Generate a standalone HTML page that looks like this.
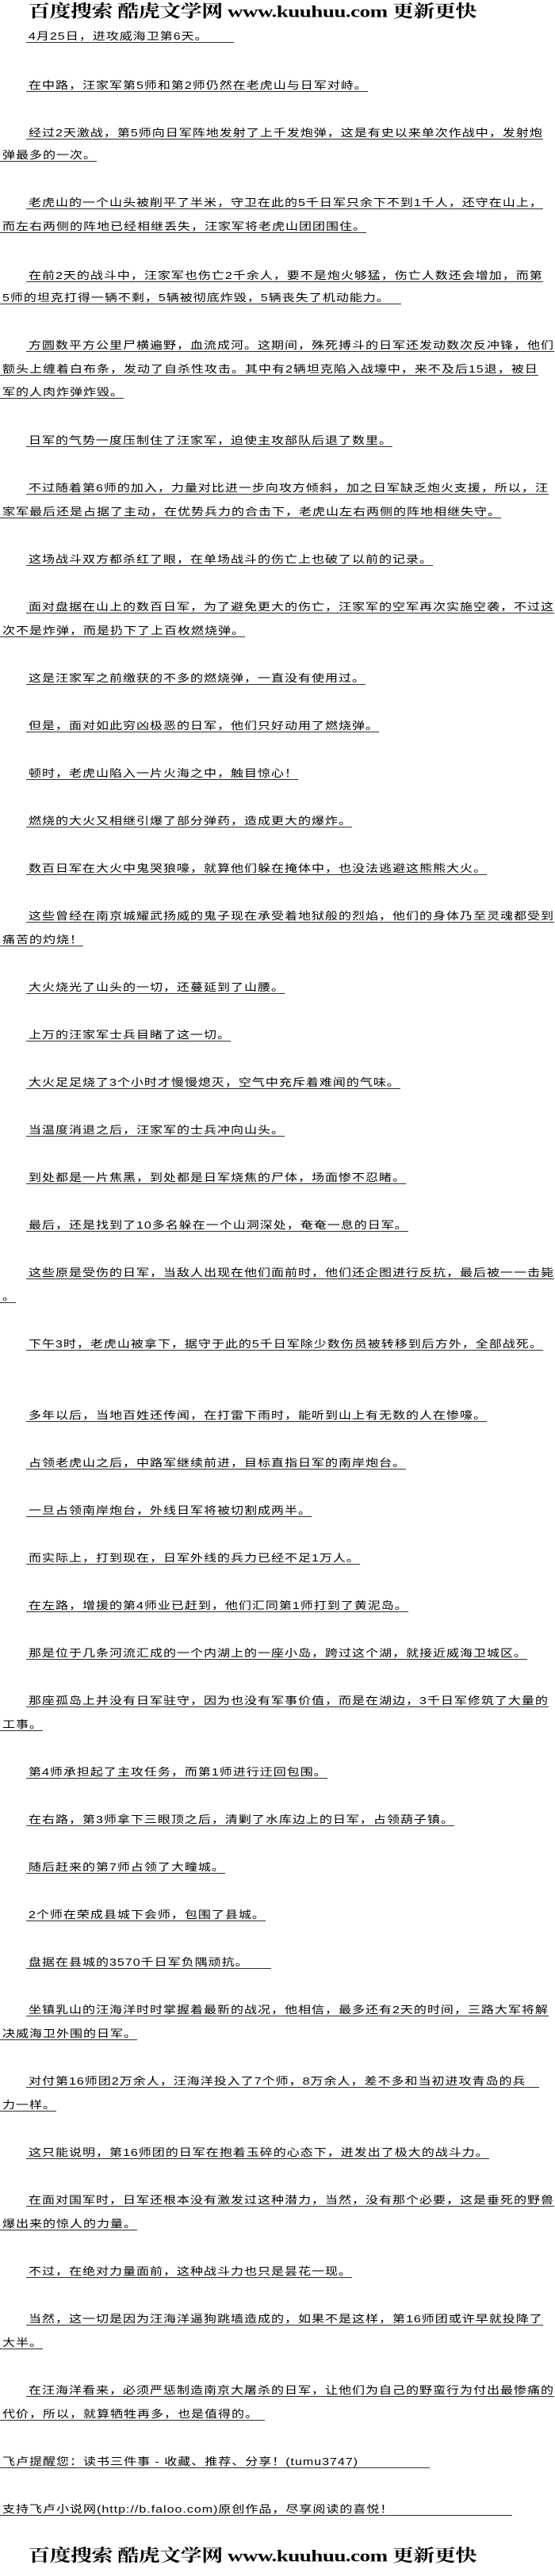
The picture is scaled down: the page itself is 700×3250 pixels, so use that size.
<!DOCTYPE html>
<html><head><meta charset="utf-8">
<style>
html,body{margin:0;padding:0;background:#fff;}
body{width:700px;height:3250px;position:relative;overflow:hidden;}
.l{position:absolute;left:33px;padding-left:3px;font-family:"Liberation Sans","Noto Sans CJK SC",sans-serif;font-size:16px;line-height:16px;letter-spacing:1px;white-space:nowrap;color:#000;border-bottom:1px solid #000;transform:scaleY(0.82);transform-origin:0 100%;}
.c{left:0;}
.hd{position:absolute;left:36px;width:600px;font-family:"Liberation Serif","Noto Serif CJK SC",serif;font-weight:bold;font-size:27px;line-height:28px;white-space:nowrap;color:#000;transform:scaleY(0.8);transform-origin:0 0;letter-spacing:-0.5px;}
</style></head><body>
<div class="hd" style="top:3px">百度搜索 酷虎文学网 www.kuuhuu.com 更新更快</div>

<div class="l" style="top:37px;padding-right:32px">4月25日，进攻威海卫第6天。</div>
<div class="l" style="top:99px">在中路，汪家军第5师和第2师仍然在老虎山与日军对峙。</div>
<div class="l" style="top:159px">经过2天激战，第5师向日军阵地发射了上千发炮弹，这是有史以来单次作战中，发射炮</div>
<div class="l c" style="top:187px">弹最多的一次。</div>
<div class="l" style="top:247px">老虎山的一个山头被削平了半米，守卫在此的5千日军只余下不到1千人，还守在山上，</div>
<div class="l c" style="top:277px">而左右两侧的阵地已经相继丢失，汪家军将老虎山团团围住。</div>
<div class="l" style="top:339px">在前2天的战斗中，汪家军也伤亡2千余人，要不是炮火够猛，伤亡人数还会增加，而第</div>
<div class="l c" style="top:367px;padding-right:14px">5师的坦克打得一辆不剩，5辆被彻底炸毁，5辆丧失了机动能力。</div>
<div class="l" style="top:427px">方圆数平方公里尸横遍野，血流成河。这期间，殊死搏斗的日军还发动数次反冲锋，他们</div>
<div class="l c" style="top:457px">额头上缠着白布条，发动了自杀性攻击。其中有2辆坦克陷入战壕中，来不及后15退，被日</div>
<div class="l c" style="top:486px">军的人肉炸弹炸毁。</div>
<div class="l" style="top:547px">日军的气势一度压制住了汪家军，迫使主攻部队后退了数里。</div>
<div class="l" style="top:607px">不过随着第6师的加入，力量对比进一步向攻方倾斜，加之日军缺乏炮火支援，所以，汪</div>
<div class="l c" style="top:637px">家军最后还是占据了主动，在优势兵力的合击下，老虎山左右两侧的阵地相继失守。</div>
<div class="l" style="top:697px">这场战斗双方都杀红了眼，在单场战斗的伤亡上也破了以前的记录。</div>
<div class="l" style="top:757px">面对盘据在山上的数百日军，为了避免更大的伤亡，汪家军的空军再次实施空袭，不过这</div>
<div class="l c" style="top:787px">次不是炸弹，而是扔下了上百枚燃烧弹。</div>
<div class="l" style="top:847px">这是汪家军之前缴获的不多的燃烧弹，一直没有使用过。</div>
<div class="l" style="top:907px">但是，面对如此穷凶极恶的日军，他们只好动用了燃烧弹。</div>
<div class="l" style="top:967px">顿时，老虎山陷入一片火海之中，触目惊心！</div>
<div class="l" style="top:1027px">燃烧的大火又相继引爆了部分弹药，造成更大的爆炸。</div>
<div class="l" style="top:1087px">数百日军在大火中鬼哭狼嚎，就算他们躲在掩体中，也没法逃避这熊熊大火。</div>
<div class="l" style="top:1147px">这些曾经在南京城耀武扬威的鬼子现在承受着地狱般的烈焰，他们的身体乃至灵魂都受到</div>
<div class="l c" style="top:1177px">痛苦的灼烧！</div>
<div class="l" style="top:1237px">大火烧光了山头的一切，还蔓延到了山腰。</div>
<div class="l" style="top:1297px">上万的汪家军士兵目睹了这一切。</div>
<div class="l" style="top:1357px">大火足足烧了3个小时才慢慢熄灭，空气中充斥着难闻的气味。</div>
<div class="l" style="top:1417px">当温度消退之后，汪家军的士兵冲向山头。</div>
<div class="l" style="top:1477px">到处都是一片焦黑，到处都是日军烧焦的尸体，场面惨不忍睹。</div>
<div class="l" style="top:1537px">最后，还是找到了10多名躲在一个山洞深处，奄奄一息的日军。</div>
<div class="l" style="top:1597px">这些原是受伤的日军，当敌人出现在他们面前时，他们还企图进行反抗，最后被一一击毙</div>
<div class="l c" style="top:1627px">。</div>
<div class="l" style="top:1687px">下午3时，老虎山被拿下，据守于此的5千日军除少数伤员被转移到后方外，全部战死。</div>
<div class="l" style="top:1777px">多年以后，当地百姓还传闻，在打雷下雨时，能听到山上有无数的人在惨嚎。</div>
<div class="l" style="top:1837px">占领老虎山之后，中路军继续前进，目标直指日军的南岸炮台。</div>
<div class="l" style="top:1897px">一旦占领南岸炮台，外线日军将被切割成两半。</div>
<div class="l" style="top:1957px">而实际上，打到现在，日军外线的兵力已经不足1万人。</div>
<div class="l" style="top:2017px">在左路，增援的第4师业已赶到，他们汇同第1师打到了黄泥岛。</div>
<div class="l" style="top:2077px">那是位于几条河流汇成的一个内湖上的一座小岛，跨过这个湖，就接近威海卫城区。</div>
<div class="l" style="top:2137px">那座孤岛上并没有日军驻守，因为也没有军事价值，而是在湖边，3千日军修筑了大量的</div>
<div class="l c" style="top:2167px">工事。</div>
<div class="l" style="top:2227px">第4师承担起了主攻任务，而第1师进行迂回包围。</div>
<div class="l" style="top:2287px">在右路，第3师拿下三眼顶之后，清剿了水库边上的日军，占领葫子镇。</div>
<div class="l" style="top:2347px">随后赶来的第7师占领了大疃城。</div>
<div class="l" style="top:2407px">2个师在荣成县城下会师，包围了县城。</div>
<div class="l" style="top:2467px;padding-right:28px">盘据在县城的3570千日军负隅顽抗。</div>
<div class="l" style="top:2527px">坐镇乳山的汪海洋时时掌握着最新的战况，他相信，最多还有2天的时间，三路大军将解</div>
<div class="l c" style="top:2557px">决威海卫外围的日军。</div>
<div class="l" style="top:2617px;padding-right:16px">对付第16师团2万余人，汪海洋投入了7个师，8万余人，差不多和当初进攻青岛的兵</div>
<div class="l c" style="top:2647px">力一样。</div>
<div class="l" style="top:2707px">这只能说明，第16师团的日军在抱着玉碎的心态下，迸发出了极大的战斗力。</div>
<div class="l" style="top:2767px">在面对国军时，日军还根本没有激发过这种潜力，当然，没有那个必要，这是垂死的野兽</div>
<div class="l c" style="top:2797px">爆出来的惊人的力量。</div>
<div class="l" style="top:2857px">不过，在绝对力量面前，这种战斗力也只是昙花一现。</div>
<div class="l" style="top:2917px">当然，这一切是因为汪海洋逼狗跳墙造成的，如果不是这样，第16师团或许早就投降了</div>
<div class="l c" style="top:2947px">大半。</div>
<div class="l" style="top:3007px">在汪海洋看来，必须严惩制造南京大屠杀的日军，让他们为自己的野蛮行为付出最惨痛的</div>
<div class="l c" style="top:3037px;padding-right:8px">代价，所以，就算牺牲再多，也是值得的。</div>
<div class="l c" style="top:3097px;padding-right:90px">飞卢提醒您：读书三件事 - 收藏、推荐、分享！(tumu3747)</div>
<div class="l c" style="top:3157px;padding-right:150px">支持飞卢小说网(http://b.faloo.com)原创作品，尽享阅读的喜悦！</div>

<div class="hd" style="top:3213px">百度搜索 酷虎文学网 www.kuuhuu.com 更新更快</div>
</body></html>
